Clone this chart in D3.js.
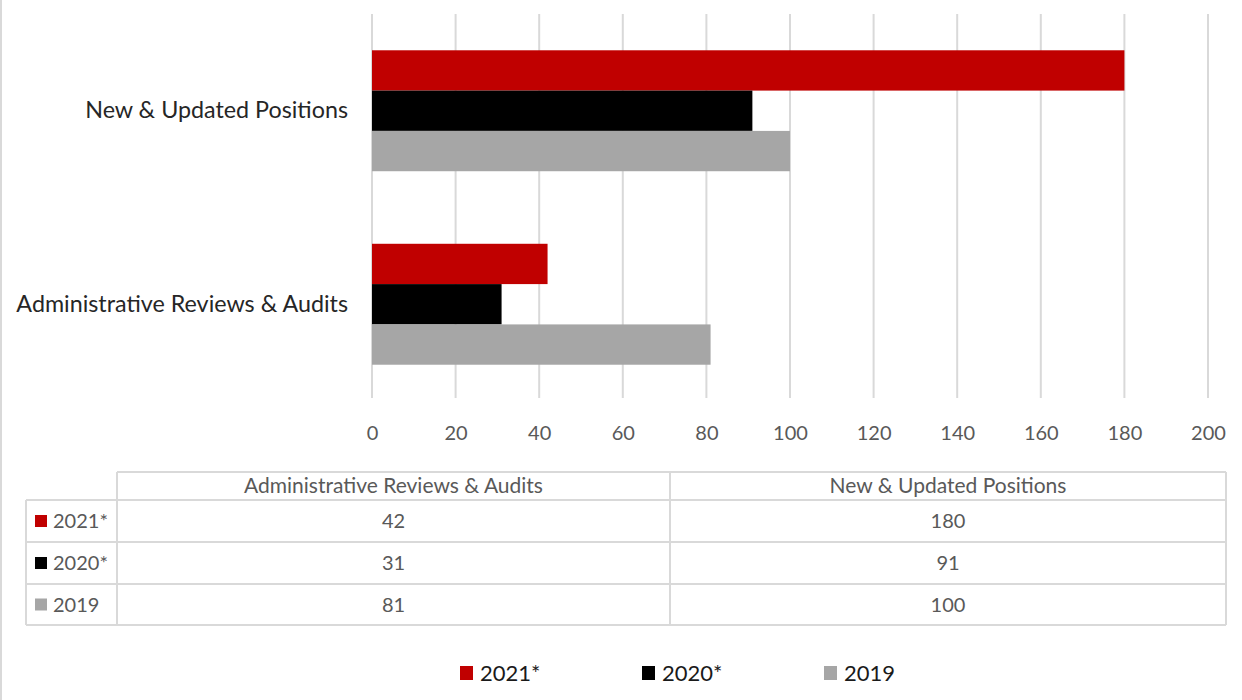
<!DOCTYPE html>
<html>
<head>
<meta charset="utf-8">
<script src="https://cdn.jsdelivr.net/npm/d3@7"></script>
<style>
  html, body { margin: 0; padding: 0; background: #fff; }
  svg { display: block; font-family: Lato, "Open Sans", sans-serif; }
</style>
</head>
<body>
<svg id="chart" width="1242" height="700"></svg>
<script>
// Categories (top to bottom) and the yearly series
const categories = ["New & Updated Positions", "Administrative Reviews & Audits"];
const seriesNames = ["2021*", "2020*", "2019"];
const values2021 = [180, 42];
const values2020 = [91, 31];
const values2019 = [100, 81];
const seriesColors = ["#c00000", "#000000", "#a6a6a6"];
const xTicks = [0, 20, 40, 60, 80, 100, 120, 140, 160, 180, 200];
// Data table column order
const tableColumns = ["Administrative Reviews & Audits", "New & Updated Positions"];

const seriesValues = [values2021, values2020, values2019];
const series = seriesNames.map((name, i) => ({
  name, color: seriesColors[i],
  values: categories.map((c, j) => ({ category: c, value: seriesValues[i][j] }))
}));

const svg = d3.select("#chart");
const grid = "#d9d9d9";
const textGray = "#595959";

// outer frame line on the left
svg.append("line").attr("x1", 1).attr("x2", 1).attr("y1", 0).attr("y2", 700)
  .attr("stroke", grid).attr("stroke-width", 2);

const x = d3.scaleLinear().domain([0, 200]).range([372, 1208]);
const y = d3.scaleBand().domain(categories).range([14, 401])
  .paddingInner(0.375).paddingOuter(0.1875);
const ySeries = d3.scaleBand().domain(seriesNames).range([0, y.bandwidth()]);

// vertical gridlines
svg.append("g").selectAll("line").data(xTicks).join("line")
  .attr("x1", d => x(d)).attr("x2", d => x(d))
  .attr("y1", 14).attr("y2", 398)
  .attr("stroke", grid).attr("stroke-width", 2);

// x axis tick labels
const xAxis = d3.axisBottom(x).tickValues(xTicks).tickSize(0).tickPadding(0);
const gx = svg.append("g").attr("transform", "translate(0,426)").call(xAxis);
gx.select(".domain").remove();
gx.selectAll("text").attr("fill", textGray).style("font-size", "20px")
  .style("font-family", "Lato, sans-serif").attr("dy", "0.71em");

// bars
const groups = svg.append("g").selectAll("g").data(series).join("g").attr("fill", d => d.color);
groups.selectAll("rect").data(d => d.values.map(v => ({ ...v, name: d.name }))).join("rect")
  .attr("x", x(0))
  .attr("y", d => y(d.category) + ySeries(d.name))
  .attr("width", d => x(d.value) - x(0))
  .attr("height", ySeries.bandwidth());

// category labels
const yAxis = d3.axisLeft(y).tickSize(0).tickPadding(24);
const gy = svg.append("g").attr("transform", `translate(${x(0)},0)`).call(yAxis);
gy.select(".domain").remove();
gy.selectAll("text").attr("fill", "#262626").style("font-size", "23.3px")
  .style("font-family", "Lato, sans-serif");

// data table
const colEdges = [26, 117, 670, 1226];
const rowEdges = [472, 500, 542, 584, 625];
const table = svg.append("g");
const tLine = (x1, y1, x2, y2) => table.append("line")
  .attr("x1", x1).attr("y1", y1).attr("x2", x2).attr("y2", y2)
  .attr("stroke", grid).attr("stroke-width", 2);
// header row (no left cell)
tLine(colEdges[1], rowEdges[0], colEdges[3], rowEdges[0]);
for (let r = 1; r < rowEdges.length; r++) tLine(colEdges[0], rowEdges[r], colEdges[3], rowEdges[r]);
tLine(colEdges[0], rowEdges[1], colEdges[0], rowEdges[4]);
for (let c = 1; c < colEdges.length; c++) tLine(colEdges[c], rowEdges[0], colEdges[c], rowEdges[4]);

tableColumns.forEach((col, ci) => {
  table.append("text")
    .attr("x", (colEdges[ci + 1] + colEdges[ci + 2]) / 2)
    .attr("y", (rowEdges[0] + rowEdges[1]) / 2)
    .attr("dy", "0.35em").attr("text-anchor", "middle")
    .attr("fill", textGray).style("font-size", "21px").text(col);
});
series.forEach((s, ri) => {
  const cy = (rowEdges[ri + 1] + rowEdges[ri + 2]) / 2;
  table.append("rect").attr("x", 35).attr("y", cy - 6).attr("width", 12).attr("height", 12)
    .attr("fill", s.color);
  table.append("text").attr("x", 53).attr("y", cy).attr("dy", "0.35em")
    .attr("fill", textGray).style("font-size", "20px").text(s.name);
  tableColumns.forEach((col, ci) => {
    const v = s.values.find(d => d.category === col).value;
    table.append("text")
      .attr("x", (colEdges[ci + 1] + colEdges[ci + 2]) / 2)
      .attr("y", cy).attr("dy", "0.35em").attr("text-anchor", "middle")
      .attr("fill", textGray).style("font-size", "20px").text(v);
  });
});

// legend
const legendX = [460, 642, 824];
const legend = svg.append("g").selectAll("g").data(series).join("g")
  .attr("transform", (d, i) => `translate(${legendX[i]},673)`);
legend.append("rect").attr("x", 0).attr("y", -7).attr("width", 13).attr("height", 14)
  .attr("fill", d => d.color);
legend.append("text").attr("x", 20).attr("dy", "0.35em")
  .attr("fill", "#1a1a1a").style("font-size", "22px").text(d => d.name);
</script>
</body>
</html>
